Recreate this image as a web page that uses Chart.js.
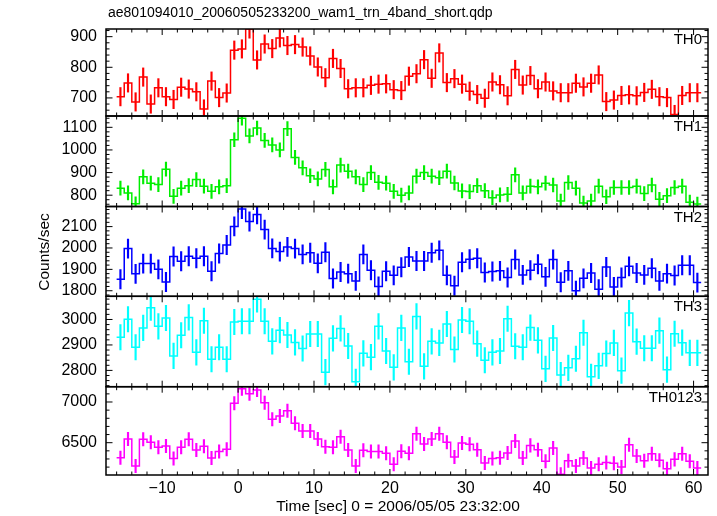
<!DOCTYPE html>
<html>
<head>
<meta charset="utf-8">
<script src="https://cdn.jsdelivr.net/npm/chart.js@4.4.0/dist/chart.umd.min.js"></script>
<style>
  html, body { margin: 0; padding: 0; background: #fff; }
  #wrap { width: 717px; height: 516px; }
</style>
</head>
<body>
<div id="wrap"><canvas id="myChart" width="717" height="516"></canvas></div>
<script>
const fileTitle = "ae801094010_20060505233200_wam1_trn_4band_short.qdp";
const xTitle = "Time [sec] 0 = 2006/05/05 23:32:00";
const yTitle = "Counts/sec";
const panelNames = ["TH0", "TH1", "TH2", "TH3", "TH0123"];

// 1 s bins, the first one runs from -16 to -15
const firstBinStart = -16;
const binWidth = 1;

const th0 = [704, 749, 687, 768, 680, 733, 704, 695, 735, 729, 720, 664, 755, 701, 716, 856,
  860, 925, 824, 876, 861, 896, 871, 874, 866, 837, 801, 766, 829, 796, 730, 733, 733, 741, 745, 746,
  727, 724, 771, 779, 825, 764, 847, 750, 763, 745, 722, 711, 699, 752, 743, 707, 793, 742, 773, 730,
  752, 723, 717, 717, 748, 736, 748, 775, 688, 693, 708, 710, 707, 718, 728, 704, 701, 646, 708, 717, 717];
const th1 = [831, 810, 762, 881, 853, 847, 915, 795, 831, 842, 869, 840, 817, 837, 842, 1045,
  1140, 1062, 1097, 1042, 1022, 1000, 1094, 967, 921, 886, 872, 914, 837, 933, 906, 881, 847, 900, 857, 853,
  817, 800, 810, 884, 900, 884, 877, 906, 854, 819, 816, 842, 820, 789, 801, 804, 890, 810, 840, 837,
  853, 845, 774, 856, 831, 765, 774, 840, 793, 834, 834, 834, 840, 807, 845, 782, 798, 834, 840, 769, 761];
const th2 = [1854, 1997, 1879, 1927, 1927, 1900, 1841, 1960, 1938, 1961, 1952, 1961, 1891, 1974, 2014, 2101,
  2182, 2124, 2157, 2086, 1998, 1983, 2005, 1997, 1970, 1978, 1928, 1980, 1857, 1888, 1880, 1846, 1970, 1896, 1820, 1891,
  1872, 1910, 1958, 1939, 1939, 1978, 1989, 1872, 1823, 1933, 1947, 1952, 1885, 1890, 1893, 1862, 1946, 1874, 1896, 1924,
  1865, 1946, 1840, 1893, 1800, 1858, 1883, 1807, 1911, 1818, 1862, 1914, 1883, 1874, 1905, 1846, 1880, 1871, 1919, 1919, 1838];
const th3 = [2930, 3001, 2891, 2967, 3046, 2973, 3006, 2857, 2938, 3008, 2871, 2995, 2844, 2891, 2844, 2990,
  2993, 2993, 3079, 2993, 2914, 2958, 2939, 2910, 2886, 2943, 2943, 2793, 2926, 2965, 2896, 2755, 2867, 2852, 2973, 2876,
  2812, 2967, 2834, 3012, 2816, 2914, 2908, 2982, 2882, 2998, 2993, 2905, 2840, 2871, 2876, 3003, 2895, 2891, 2968, 2918,
  2806, 2927, 2782, 2810, 2846, 2948, 2775, 2818, 2866, 2908, 2799, 3025, 2913, 2887, 2887, 2956, 2803, 2944, 2909, 2869, 2869];
const th0123 = [6316, 6545, 6213, 6541, 6504, 6443, 6459, 6307, 6443, 6541, 6410, 6455, 6312, 6393, 6418, 6984,
  7164, 7102, 7148, 6992, 6787, 6828, 6893, 6738, 6643, 6643, 6545, 6451, 6443, 6574, 6410, 6213, 6406, 6393, 6393, 6369,
  6234, 6395, 6369, 6611, 6484, 6545, 6611, 6504, 6324, 6496, 6480, 6414, 6250, 6307, 6316, 6373, 6520, 6312, 6467, 6414,
  6271, 6434, 6111, 6279, 6213, 6312, 6189, 6234, 6258, 6246, 6201, 6475, 6336, 6279, 6365, 6283, 6180, 6295, 6365, 6271, 6189];

// error bar half-lengths, one per panel
const errTH = [30, 31, 45, 50, 82];

const xTicks = [-10, 0, 10, 20, 30, 40, 50, 60];
const yTicksTH0 = [700, 800, 900];
const yTicksTH1 = [800, 900, 1000, 1100];
const yTicksTH2 = [1800, 1900, 2000, 2100];
const yTicksTH3 = [2800, 2900, 3000];
const yTicksTH0123 = [6500, 7000];

const series = [th0, th1, th2, th3, th0123];
const yTicks = [yTicksTH0, yTicksTH1, yTicksTH2, yTicksTH3, yTicksTH0123];

// styles / axis setup
const colors = ["#ff0000", "#00ee00", "#0000ff", "#00ffff", "#ff00ff"];
const yRanges = [[641, 925], [750, 1150], [1774, 2194], [2736, 3091], [6103, 7188]];
const yMajor = [100, 100, 100, 100, 500];
const yMinor = [20, 20, 20, 20, 100];
const panelWeights = [87, 90.5, 89.8, 90.4, 88.3];
const fontFamily = "'Liberation Sans', Arial, Helvetica, sans-serif";

let datasets = [];
let scales = {
  x: {
    type: "linear",
    offset: false,
    min: -17.4,
    max: 61.9,
    afterBuildTicks: (s) => { s.ticks = xTicks.map(v => ({ value: v })); },
    afterFit: (s) => { s.height = 41; },
    grid: { display: false, drawTicks: false, offset: false },
    border: { display: false },
    ticks: {
      color: "#000",
      padding: 4,
      maxRotation: 0,
      autoSkip: false,
      font: { family: fontFamily, size: 16 },
      callback: (v) => (v < 0 ? "\u2212" + Math.abs(v) : String(v)),
    },
  },
};

series.forEach((vals, p) => {
  let id = "y" + p;
  let steps = [];
  vals.forEach((v, i) => {
    let x0 = firstBinStart + i * binWidth;
    steps.push({ x: x0, y: v }, { x: x0 + binWidth, y: v });
  });
  datasets.push({
    type: "line",
    data: steps,
    yAxisID: id,
    borderColor: colors[p],
    borderWidth: 1.5,
    pointRadius: 0,
    tension: 0,
    fill: false,
    order: 1,
  });
  datasets.push({
    type: "bar",
    data: vals.map((v, i) => ({ x: firstBinStart + (i + 0.5) * binWidth, y: [v - errTH[p], v + errTH[p]] })),
    yAxisID: id,
    backgroundColor: colors[p],
    borderWidth: 0,
    barThickness: 1.5,
    grouped: false,
    order: 2,
  });
  scales[id] = {
    type: "linear",
    position: "left",
    stack: "panels",
    stackWeight: panelWeights[p],
    weight: 10 - p,
    min: yRanges[p][0],
    max: yRanges[p][1],
    afterBuildTicks: (s) => { s.ticks = yTicks[p].map(v => ({ value: v })); },
    afterFit: (s) => { s.width = 106; },
    grid: { display: false, drawTicks: false },
    border: { display: false },
    ticks: {
      color: "#000",
      padding: 9,
      autoSkip: false,
      font: { family: fontFamily, size: 16 },
      callback: (v) => String(v),
    },
  };
});

// frames, inward ticks and the texts qdp puts around the panels
const qdpPlugin = {
  id: "qdp",
  afterDraw(chart) {
    let ctx = chart.ctx;
    let area = chart.chartArea;
    let xs = chart.scales.x;
    ctx.save();
    ctx.strokeStyle = "#000";
    ctx.fillStyle = "#000";
    let seg = (x1, y1, x2, y2) => {
      ctx.beginPath();
      ctx.moveTo(x1, y1);
      ctx.lineTo(x2, y2);
      ctx.stroke();
    };
    panelNames.forEach((name, p) => {
      let ys = chart.scales["y" + p];
      let top = ys.top, bot = ys.bottom;
      ctx.lineWidth = 1.5;
      ctx.strokeRect(area.left, top, area.right - area.left, bot - top);
      ctx.lineWidth = 1;
      for (let t = Math.ceil(xs.min / 2) * 2; t <= xs.max; t += 2) {
        let px = xs.getPixelForValue(t);
        let len = t % 10 === 0 ? 6 : 3.5;
        seg(px, top, px, top + len);
        seg(px, bot, px, bot - len);
      }
      for (let v = Math.ceil(ys.min / yMinor[p]) * yMinor[p]; v <= ys.max; v += yMinor[p]) {
        let py = ys.getPixelForValue(v);
        let len = v % yMajor[p] === 0 ? 6.5 : 3.5;
        seg(area.left, py, area.left + len, py);
        seg(area.right, py, area.right - len, py);
      }
      ctx.font = "15px " + fontFamily;
      ctx.textAlign = "right";
      ctx.textBaseline = "middle";
      ctx.fillText(name, area.right - 6, top + 11);
    });
    ctx.font = "14px " + fontFamily;
    ctx.textAlign = "left";
    ctx.textBaseline = "middle";
    ctx.fillText(fileTitle, 108, 13);
    ctx.font = "15.5px " + fontFamily;
    ctx.textAlign = "center";
    ctx.fillText(xTitle, 398, 507);
    ctx.translate(45, (area.top + area.bottom) / 2);
    ctx.rotate(-Math.PI / 2);
    ctx.fillText(yTitle, 0, 0);
    ctx.restore();
  },
};

let canvas = document.getElementById("myChart");
let ctx = canvas.getContext("2d");
let chart = new Chart(ctx, {
  data: { datasets: datasets },
  options: {
    responsive: false,
    animation: false,
    devicePixelRatio: 1,
    layout: { padding: { left: 0, right: 9, top: 29, bottom: 0 } },
    plugins: { legend: { display: false }, tooltip: { enabled: false }, title: { display: false } },
    scales: scales,
  },
  plugins: [qdpPlugin],
});
</script>
</body>
</html>
